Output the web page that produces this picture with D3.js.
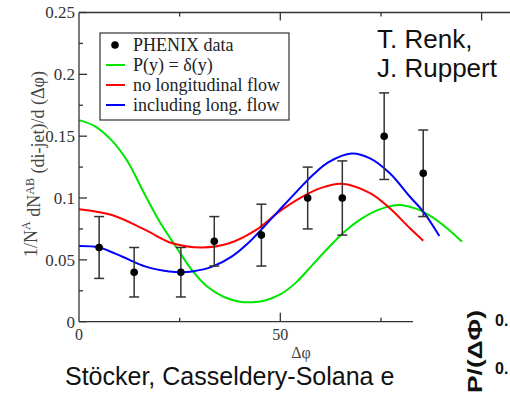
<!DOCTYPE html>
<html>
<head>
<meta charset="utf-8">
<script src="https://cdn.jsdelivr.net/npm/d3@7"></script>
<style>
  html, body { margin: 0; padding: 0; background: #fff; }
  svg { display: block; }
</style>
</head>
<body>
<svg id="chart" width="510" height="395"></svg>
<script>
// PHENIX di-jet azimuthal correlation data (Δφ in degrees)
const dataPhi   = [5, 13.7, 25.3, 33.6, 45.3, 56.8, 65.4, 75.8, 85.5];
const dataValue = [0.06, 0.04, 0.04, 0.065, 0.07, 0.10, 0.10, 0.15, 0.12];
const dataHigh  = [0.085, 0.06, 0.06, 0.085, 0.095, 0.125, 0.13, 0.185, 0.155];
const dataLow   = [0.035, 0.02, 0.02, 0.045, 0.045, 0.075, 0.07, 0.115, 0.085];

// Model curve: P(y) = δ(y)
const greenPhi = [0, 4, 8, 12, 16, 20, 24, 28, 32, 36, 40, 43, 46, 50, 54, 58, 62, 66, 70, 74, 78, 80, 84, 88, 92, 95.1];
const greenVal = [0.163, 0.158, 0.147, 0.130, 0.105, 0.081, 0.061, 0.042, 0.028, 0.020, 0.0162, 0.0157, 0.017, 0.022, 0.032, 0.046, 0.060, 0.073, 0.083, 0.090, 0.094, 0.0943, 0.091, 0.084, 0.074, 0.0647];

// Model curve: no longitudinal flow
const redPhi = [0, 8.2, 16.6, 23.2, 30.6, 37.3, 43.9, 49.7, 54.9, 60, 65.2, 72.3, 77.2, 82.2, 85.5];
const redVal = [0.091, 0.0863, 0.074, 0.0634, 0.060, 0.0634, 0.074, 0.089, 0.1, 0.108, 0.1116, 0.104, 0.0917, 0.0755, 0.0655];

// Model curve: including longitudinal flow
const bluePhi = [0, 5, 10.8, 16.6, 22.4, 25.5, 28.1, 33.1, 38.1, 42.5, 46, 49.7, 54, 58.2, 62, 67.7, 72.3, 77.2, 82.2, 85.5, 89.5];
const blueVal = [0.0612, 0.060, 0.0525, 0.0445, 0.0406, 0.040, 0.0406, 0.0445, 0.053, 0.065, 0.077, 0.090, 0.105, 0.119, 0.129, 0.136, 0.132, 0.12, 0.101, 0.089, 0.0693];

const yTicks = [0, 0.05, 0.1, 0.15, 0.2, 0.25];
const yTickLabels = ["0", "0.05", "0.1", "0.15", "0.2", "0.25"];
const xTicks = [0, 50];
const xTickLabels = ["0", "50"];

const legendLabels = ["PHENIX data", "P(y) = δ(y)", "no longitudinal flow", "including long. flow"];
const curveColors = ["#00e600", "#ff0000", "#0000ff"];

const svg = d3.select("#chart");
const serif = "'Liberation Serif', 'Times New Roman', serif";
const sans = "'Liberation Sans', Arial, sans-serif";
const axisColor = "#333";

const x = d3.scaleLinear().domain([0, 107]).range([79, 509.8]);
const y = d3.scaleLinear().domain([0, 0.25]).range([321.7, 12.5]);

// curves
const line = d3.line().x(d => x(d[0])).y(d => y(d[1])).curve(d3.curveCatmullRom.alpha(0.5));
const series = [
  d3.zip(greenPhi, greenVal),
  d3.zip(redPhi, redVal),
  d3.zip(bluePhi, blueVal)
];
svg.append("g").selectAll("path").data(series).join("path")
  .attr("d", line)
  .attr("fill", "none")
  .attr("stroke", (d, i) => curveColors[i])
  .attr("stroke-width", 2);

// data points with error bars
const pts = dataPhi.map((p, i) => ({ p, v: dataValue[i], hi: dataHigh[i], lo: dataLow[i] }));
const gp = svg.append("g").attr("stroke", "#333").attr("stroke-width", 1.5);
gp.selectAll("line.bar").data(pts).join("line").attr("class", "bar")
  .attr("x1", d => x(d.p)).attr("x2", d => x(d.p))
  .attr("y1", d => y(d.hi)).attr("y2", d => y(d.lo));
gp.selectAll("line.cap-hi").data(pts).join("line").attr("class", "cap-hi")
  .attr("x1", d => x(d.p) - 5).attr("x2", d => x(d.p) + 5)
  .attr("y1", d => y(d.hi)).attr("y2", d => y(d.hi));
gp.selectAll("line.cap-lo").data(pts).join("line").attr("class", "cap-lo")
  .attr("x1", d => x(d.p) - 5).attr("x2", d => x(d.p) + 5)
  .attr("y1", d => y(d.lo)).attr("y2", d => y(d.lo));
svg.append("g").selectAll("circle").data(pts).join("circle")
  .attr("cx", d => x(d.p)).attr("cy", d => y(d.v)).attr("r", 3.8)
  .attr("fill", "#000");

// frame: left, top, bottom
const frame = svg.append("g").attr("stroke", axisColor).attr("stroke-width", 1.3).attr("fill", "none");
frame.append("line").attr("x1", x(0)).attr("x2", x(0)).attr("y1", y(0.25)).attr("y2", y(0));
frame.append("line").attr("x1", x(0)).attr("x2", 510).attr("y1", y(0.25)).attr("y2", y(0.25));
frame.append("line").attr("x1", x(0)).attr("x2", x(83.3)).attr("y1", y(0)).attr("y2", y(0));

// y ticks (inward)
const yAll = d3.range(0, 0.2501, 0.025);
frame.selectAll("line.yt").data(yAll).join("line").attr("class", "yt")
  .attr("x1", x(0)).attr("x2", (d, i) => x(0) + (i % 2 === 0 ? 8 : 4))
  .attr("y1", d => y(d)).attr("y2", d => y(d));
// x ticks bottom and top (inward)
const xAll = [25, 50, 75, 100];
frame.selectAll("line.xb").data(xAll.filter(d => d < 83)).join("line").attr("class", "xb")
  .attr("x1", d => x(d)).attr("x2", d => x(d))
  .attr("y1", y(0)).attr("y2", d => y(0) - (d % 50 === 0 ? 9 : 4));
frame.selectAll("line.xt").data(xAll).join("line").attr("class", "xt")
  .attr("x1", d => x(d)).attr("x2", d => x(d))
  .attr("y1", y(0.25)).attr("y2", d => y(0.25) + (d % 50 === 0 ? 8 : 4));

// tick labels
svg.append("g").selectAll("text").data(yTicks).join("text")
  .attr("x", 75).attr("y", d => y(d)).attr("dy", "0.35em")
  .attr("text-anchor", "end")
  .style("font-family", serif).style("font-size", "17px").attr("fill", "#333")
  .text((d, i) => yTickLabels[i]);
svg.append("g").selectAll("text").data(xTicks).join("text")
  .attr("x", d => x(d)).attr("y", 340)
  .attr("text-anchor", "middle")
  .style("font-family", serif).style("font-size", "16px").attr("fill", "#333")
  .text((d, i) => xTickLabels[i]);

// axis titles
svg.append("text").attr("x", 301).attr("y", 358).attr("text-anchor", "middle")
  .style("font-family", serif).style("font-size", "16px").attr("fill", "#444")
  .text("Δφ");
const yl = svg.append("text")
  .attr("transform", "translate(37,164) rotate(-90)")
  .attr("text-anchor", "middle")
  .style("font-family", serif).style("font-size", "18px").attr("fill", "#444");
yl.append("tspan").text("1/N");
yl.append("tspan").attr("dy", "-0.55em").style("font-size", "12px").text("A");
yl.append("tspan").attr("dy", "0.55em").text(" dN");
yl.append("tspan").attr("dy", "-0.55em").style("font-size", "12px").text("AB");
yl.append("tspan").attr("dy", "0.55em").text(" (di-jet)/d (Δφ)");

// legend
const lg = svg.append("g");
lg.append("rect").attr("x", 100).attr("y", 33).attr("width", 189).attr("height", 87)
  .attr("fill", "#fff").attr("stroke", "#333").attr("stroke-width", 1.2);
const rowY = [45, 65, 85, 105];
lg.append("circle").attr("cx", 115).attr("cy", rowY[0]).attr("r", 3.8).attr("fill", "#000");
lg.selectAll("line").data(curveColors).join("line")
  .attr("x1", 106).attr("x2", 125)
  .attr("y1", (d, i) => rowY[i + 1]).attr("y2", (d, i) => rowY[i + 1])
  .attr("stroke", d => d).attr("stroke-width", 2);
lg.selectAll("text").data(legendLabels).join("text")
  .attr("x", 133).attr("y", (d, i) => rowY[i]).attr("dy", "0.33em")
  .style("font-family", serif).style("font-size", "18px").attr("fill", "#222")
  .text(d => d);

// author note
svg.append("text").attr("x", 377).attr("y", 48)
  .style("font-family", sans).style("font-size", "26px").attr("fill", "#111")
  .text("T. Renk,");
svg.append("text").attr("x", 377).attr("y", 77)
  .style("font-family", sans).style("font-size", "26px").attr("fill", "#111")
  .text("J. Ruppert");

// slide caption
svg.append("text").attr("x", 65).attr("y", 385)
  .style("font-family", sans).style("font-size", "25px").attr("fill", "#111")
  .text("Stöcker, Casseldery-Solana e");

// neighbouring panel fragment in the lower right
svg.append("rect").attr("x", 413).attr("y", 242).attr("width", 97).attr("height", 153).attr("fill", "#fff");
svg.append("text").attr("transform", "translate(482,393) rotate(-90)")
  .style("font-family", sans).style("font-size", "20px").style("font-weight", "bold").attr("fill", "#111")
  .attr("textLength", 83).attr("lengthAdjust", "spacingAndGlyphs")
  .text("P/(ΔΦ)");
svg.append("text").attr("x", 495).attr("y", 326)
  .style("font-family", sans).style("font-size", "16px").style("font-weight", "bold").attr("fill", "#111")
  .text("0.");
svg.append("text").attr("x", 495).attr("y", 374)
  .style("font-family", sans).style("font-size", "16px").style("font-weight", "bold").attr("fill", "#111")
  .text("0.");
</script>
</body>
</html>
